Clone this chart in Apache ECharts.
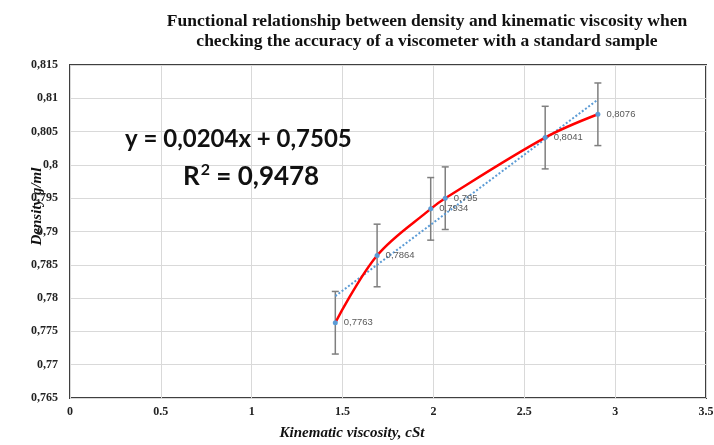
<!DOCTYPE html>
<html>
<head>
<meta charset="utf-8">
<script src="https://cdn.jsdelivr.net/npm/echarts@6/dist/echarts.min.js"></script>
<style>
  html, body { margin: 0; padding: 0; background: #fff; }
  #chart { width: 714px; height: 445px; }
</style>
</head>
<body>
<div id="chart"></div>
<script>
// measured points (viscosity, density)
const viscosity = [1.46, 1.69, 1.985, 2.065, 2.615, 2.905];
const density = [0.7763, 0.7864, 0.7934, 0.795, 0.8041, 0.8076];
const errHalf = [0.0047, 0.0047, 0.0047, 0.0047, 0.0047, 0.0047];
const pointLabels = ['0,7763', '0,7864', '0,7934', '0,795', '0,8041', '0,8076'];
// linear trend line ends
const trendX = [1.46, 2.905];
const trendY = [0.7803, 0.8098];
const xTicks = ['0', '0.5', '1', '1.5', '2', '2.5', '3', '3.5'];

const serif = '"Liberation Serif", "DejaVu Serif", serif';
const sans = '"Liberation Sans", Arial, sans-serif';
const eqFont = 'Lato, "Liberation Sans", sans-serif';

const chart = echarts.init(document.getElementById('chart'));
const option = {
  animation: false,
  title: {
    text: 'Functional relationship between density and kinematic viscosity when\nchecking the accuracy of a viscometer with a standard sample',
    left: 422,
    top: 6,
    textAlign: 'center',
    textStyle: { fontFamily: serif, fontWeight: 'bold', fontSize: 17.5, lineHeight: 20, color: '#111' }
  },
  grid: {
    left: 70, right: 8, top: 65, bottom: 47,
    outerBoundsMode: 'none',
    show: true, borderColor: '#3f3f3f', borderWidth: 2
  },
  xAxis: {
    type: 'value', min: 0, max: 3.5, interval: 0.5,
    name: 'Kinematic viscosity, cSt',
    nameLocation: 'middle',
    nameGap: 28,
    nameMoveOverlap: false,
    nameTextStyle: { fontFamily: serif, fontStyle: 'italic', fontWeight: 'bold', fontSize: 15, color: '#111', padding: [0, 72, 0, 0] },
    axisLine: { show: false },
    axisTick: { show: false },
    axisLabel: {
      fontFamily: serif, fontWeight: 'bold', fontSize: 12, color: '#222', margin: 8,
      formatter: function (v) { return xTicks[Math.round(v / 0.5)]; }
    },
    splitLine: { show: true, lineStyle: { color: '#d9d9d9', width: 1 } }
  },
  yAxis: {
    type: 'value', min: 0.765, max: 0.815, interval: 0.005,
    name: 'Density g/ml',
    nameLocation: 'middle',
    nameGap: 25,
    nameMoveOverlap: false,
    nameTextStyle: { fontFamily: serif, fontStyle: 'italic', fontWeight: 'bold', fontSize: 15, color: '#111', padding: [0, 0, 0, 50] },
    axisLine: { show: false },
    axisTick: { show: false },
    axisLabel: {
      fontFamily: serif, fontWeight: 'bold', fontSize: 12, color: '#222', margin: 12,
      formatter: function (v) { return String(+v.toFixed(3)).replace('.', ','); }
    },
    splitLine: { show: true, lineStyle: { color: '#d9d9d9', width: 1 } }
  },
  graphic: [
    {
      type: 'text', left: 125, top: 127, z: 100,
      style: { text: 'y = 0,0204x + 0,7505', fontFamily: eqFont, fontWeight: 'bold', fontSize: 24, fill: '#111' }
    },
    {
      type: 'text', left: 183, top: 162, z: 100,
      style: {
        text: '{r|R}{s|2}{r| = 0,9478}',
        rich: {
          r: { fontFamily: eqFont, fontWeight: 'bold', fontSize: 26, fill: '#111', color: '#111', lineHeight: 30 },
          s: { fontFamily: eqFont, fontWeight: 'bold', fontSize: 16, fill: '#111', color: '#111', verticalAlign: 'top', lineHeight: 20, padding: [0, 0, 0, 1] }
        }
      }
    }
  ],
  series: [
    {
      name: 'error',
      type: 'custom',
      z: 2,
      data: viscosity.map((x, i) => [x, density[i] - errHalf[i], density[i] + errHalf[i]]),
      renderItem: function (params, api) {
        const lo = api.coord([api.value(0), api.value(1)]);
        const hi = api.coord([api.value(0), api.value(2)]);
        const w = 3.5;
        const st = { stroke: '#7f7f7f', lineWidth: 1.5 };
        return {
          type: 'group',
          children: [
            { type: 'line', shape: { x1: lo[0], y1: lo[1], x2: hi[0], y2: hi[1] }, style: st },
            { type: 'line', shape: { x1: lo[0] - w, y1: lo[1], x2: lo[0] + w, y2: lo[1] }, style: st },
            { type: 'line', shape: { x1: hi[0] - w, y1: hi[1], x2: hi[0] + w, y2: hi[1] }, style: st }
          ]
        };
      }
    },
    {
      name: 'trend',
      type: 'line',
      z: 3,
      data: trendX.map((x, i) => [x, trendY[i]]),
      symbol: 'none',
      lineStyle: { color: '#5b9bd5', width: 2, type: [2, 2] }
    },
    {
      name: 'density',
      type: 'line',
      z: 4,
      smooth: 0.35,
      data: viscosity.map((x, i) => [x, density[i]]),
      symbol: 'circle',
      symbolSize: 5,
      itemStyle: { color: '#5b9bd5' },
      lineStyle: { color: '#ff0000', width: 2.5 },
      label: {
        show: true, position: 'right', distance: 6,
        fontFamily: sans, fontSize: 9.5, color: '#595959',
        formatter: function (p) { return pointLabels[p.dataIndex]; }
      }
    }
  ]
};
chart.setOption(option);
</script>
</body>
</html>
